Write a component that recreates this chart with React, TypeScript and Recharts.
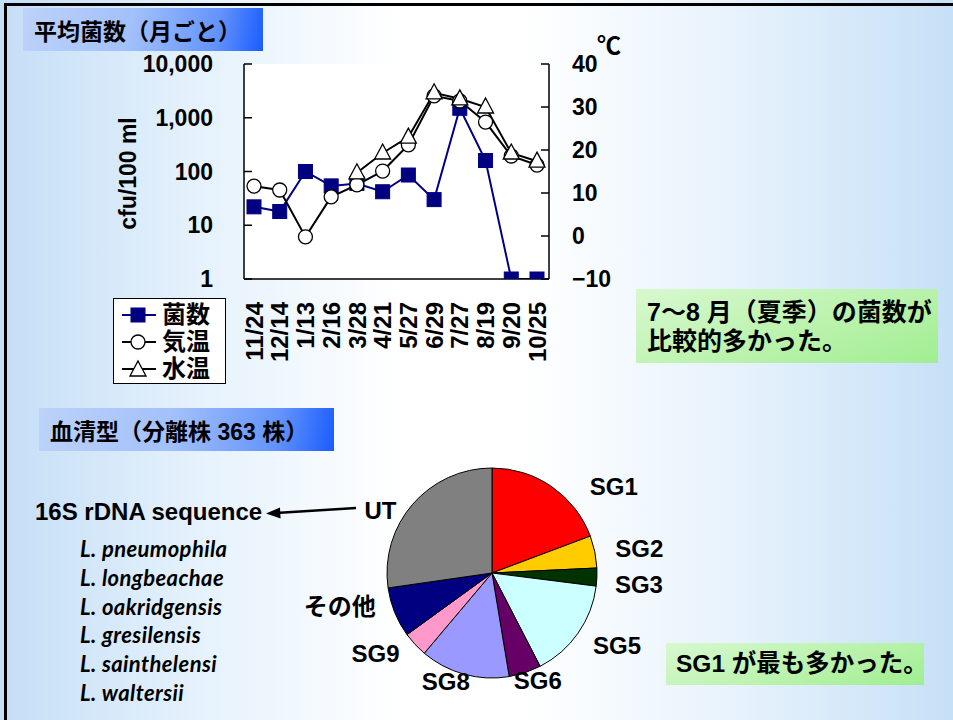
import React from "react";
import { LineChart, Line, XAxis, YAxis, CartesianGrid, Legend, PieChart, Pie, Cell } from "recharts";

// monthly means (bacteria in cfu/100 ml, temperatures in °C)
const sampleDates = ["11/24", "12/14", "1/13", "2/16", "3/28", "4/21", "5/27", "6/29", "7/27", "8/19", "9/20", "10/25"];
const bacteriaCounts = [22, 18, 100, 54, 60, 42, 86, 30, 1500, 160, 1, 1];
const airTemps = [11.6, 10.7, -0.2, 9.1, 11.9, 15.1, 21.2, 32.6, 31.4, 26.5, 18.6, 16.5];
const waterTemps = [null, null, null, null, 14.7, 19.3, 23.0, 33.3, 31.9, 30.0, 19.3, 17.4];
const cfuTicks = [1, 10, 100, 1000, 10000];
const tempTicks = [-10, 0, 10, 20, 30, 40];
const seriesOrder = ["bacteria", "air", "water"];

// serogroups of the 363 isolates
const serogroups = ["SG1", "SG2", "SG3", "SG5", "SG6", "SG8", "SG9", "その他", "UT"];
const strainCounts = [70, 18, 10, 56, 18, 50, 14, 28, 99];
const speciesList = ["L. pneumophila", "L. longbeachae", "L. oakridgensis", "L. gresilensis", "L. sainthelensi", "L. waltersii"];

const sliceColors = ["#ff0000", "#ffcc00", "#003300", "#ccffff", "#660066", "#9999ff", "#ff99cc", "#000080", "#808080"];
// hand-placed data labels, like in the original slide
const labelNudge: Record<string, [number, number]> = {
  SG1: [46, 23], SG2: [17, 2], SG3: [14, 6], SG5: [16, -4], SG6: [4, -19],
  SG8: [-11, -20], SG9: [-19, -10], "その他": [-29, -16], UT: [-11, 25],
};

const SANS = "'Liberation Sans', 'Noto Sans CJK JP', sans-serif";
const CJK = "'Noto Sans CJK JP', 'Liberation Sans', sans-serif";

const monthlyRows = sampleDates.map((d, i) => ({ date: d, bacteria: bacteriaCounts[i], air: airTemps[i], water: waterTemps[i] }));
const pieRows = serogroups.map((g, i) => ({ name: g, count: strainCounts[i] }));

const tickStyle = { fill: "#000", fontSize: 23, fontWeight: 700, fontFamily: SANS };
const frameLine = { stroke: "#000", strokeWidth: 1.5 };

function SquareDot({ cx, cy }: any) {
  if (cx == null || cy == null) return null;
  return <rect x={cx - 7} y={cy - 7} width={14} height={14} fill="#000080" stroke="#000080" />;
}
function CircleDot({ cx, cy }: any) {
  if (cx == null || cy == null) return null;
  return <circle cx={cx} cy={cy} r={7} fill="#fff" stroke="#000" strokeWidth={1.3} />;
}
function TriangleDot({ cx, cy }: any) {
  if (cx == null || cy == null) return null;
  return <path d={`M${cx},${cy - 9} L${cx + 8},${cy + 6} L${cx - 8},${cy + 6} Z`} fill="#fff" stroke="#000" strokeWidth={1.3} />;
}

function DateTick({ x, y, payload }: any) {
  return (
    <text x={x} y={y} transform={`rotate(-90, ${x}, ${y})`} textAnchor="end" dy="0.36em"
      fontSize={24} fontWeight={700} fontFamily={SANS} fill="#000">
      {payload.value}
    </text>
  );
}

function LegendBox({ payload }: any) {
  const markers: Record<string, any> = {
    bacteria: <SquareDot cx={18} cy={12} />,
    air: <CircleDot cx={18} cy={12} />,
    water: <TriangleDot cx={18} cy={13} />,
  };
  const items = [...(payload || [])].sort(
    (a: any, b: any) => seriesOrder.indexOf(a.dataKey) - seriesOrder.indexOf(b.dataKey)
  );
  return (
    <div style={{ width: 113, height: 86, boxSizing: "border-box", border: "1.5px solid #000", background: "#fff", paddingTop: 2 }}>
      {items.map((entry: any) => (
        <div key={entry.dataKey} style={{ display: "flex", alignItems: "center", height: 27 }}>
          <svg width={44} height={24} style={{ marginLeft: 6, flex: "none" }}>
            <line x1={2} y1={12} x2={36} y2={12} stroke={entry.color} strokeWidth={2} />
            {markers[entry.dataKey]}
          </svg>
          <span style={{ fontFamily: SANS, fontWeight: 700, fontSize: 24, lineHeight: "26px", marginLeft: -2, whiteSpace: "nowrap" }}>{entry.value}</span>
        </div>
      ))}
    </div>
  );
}

function PieLabel({ cx, cy, midAngle, outerRadius, name }: any) {
  const rad = Math.PI / 180;
  const d = outerRadius + 28;
  const [nx, ny] = labelNudge[name] || [0, 0];
  const x = cx + d * Math.cos(-midAngle * rad) + nx;
  const y = cy + d * Math.sin(-midAngle * rad) + ny;
  return (
    <text x={x} y={y} textAnchor="middle" dominantBaseline="central" fontSize={24} fontWeight={700} fontFamily={SANS} fill="#000">
      {name}
    </text>
  );
}

const titleBox: React.CSSProperties = {
  position: "absolute",
  background: "linear-gradient(100deg, #bcd2f9 0%, #a2c0fa 45%, #6494fb 80%, #1a5cff 100%)",
  fontFamily: SANS,
  fontWeight: 700,
  fontSize: 23,
  color: "#000",
  boxSizing: "border-box",
  display: "flex",
  alignItems: "center",
  whiteSpace: "nowrap",
};
const noteBox: React.CSSProperties = {
  position: "absolute",
  background: "linear-gradient(160deg, #d8f8d0 0%, #b8f2aa 60%, #a0ee90 100%)",
  fontFamily: SANS,
  fontWeight: 700,
  fontSize: 25,
  color: "#000",
  boxSizing: "border-box",
  whiteSpace: "nowrap",
};

export default function App() {
  return (
    <div style={{
      position: "absolute", left: 0, top: 0, width: 953, height: 720, overflow: "hidden",
      background: "linear-gradient(90deg, #c4def6 0%, #e4f1fc 20%, #ffffff 42%, #ffffff 55%, #e6f2fc 78%, #c6e0f7 100%)",
    }}>
      <div style={{ position: "absolute", left: 4, top: 3, width: 1000, height: 800, borderTop: "3px solid #000", borderLeft: "3px solid #000" }} />

      <div style={{ ...titleBox, left: 23, top: 8, width: 240, height: 43, paddingLeft: 11 }}>平均菌数（月ごと）</div>
      <div style={{ ...titleBox, left: 39, top: 408, width: 295, height: 43, paddingLeft: 11 }}>血清型（分離株 363 株）</div>

      <div style={{ ...noteBox, left: 636, top: 289, width: 302, height: 74, padding: "9px 0 0 11px", lineHeight: "29px" }}>
        7～8 月（夏季）の菌数が<br />比較的多かった。
      </div>
      <div style={{ ...noteBox, left: 666, top: 643, width: 258, height: 42, padding: "0 0 0 10px", lineHeight: "42px", fontSize: 24.5 }}>
        SG1 が最も多かった。
      </div>

      <div style={{ position: "absolute", left: 0, top: 0 }}>
        <LineChart width={640} height={400} data={monthlyRows} margin={{ top: 64, right: 0, bottom: 0, left: 0 }}>
          <CartesianGrid yAxisId="cfu" fill="#ffffff" horizontal={false} vertical={false} />
          <XAxis dataKey="date" interval={0} padding={{ left: 10, right: 12 }} height={121}
            axisLine={frameLine} tickLine={false} tickSize={0} tickMargin={23} tick={<DateTick />} />
          <XAxis xAxisId="top" orientation="top" dataKey="date" height={0} padding={{ left: 10, right: 12 }}
            axisLine={frameLine} tick={false} tickLine={false} />
          <YAxis yAxisId="cfu" scale="log" domain={[1, 10000]} ticks={cfuTicks} allowDataOverflow width={244}
            tickSize={-8} tickMargin={39} axisLine={frameLine} tickLine={frameLine} tick={tickStyle}
            tickFormatter={(v: number) => v.toLocaleString("en-US")}
            label={(p: any) => {
              const vb = p.viewBox || { x: 0, y: 64, width: 244, height: 215 };
              const lx = vb.x + 128;
              const ly = vb.y + vb.height / 2 + 2;
              return (
                <text x={lx} y={ly} transform={`rotate(-90, ${lx}, ${ly})`} textAnchor="middle" dy="0.36em"
                  fontSize={23} fontWeight={700} fontFamily={SANS} fill="#000">cfu/100 ml</text>
              );
            }} />
          <YAxis yAxisId="temp" orientation="right" domain={[-10, 40]} ticks={tempTicks} width={91}
            tickSize={-8} tickMargin={31} axisLine={frameLine} tickLine={frameLine} tick={tickStyle}
            tickFormatter={(v: number) => (v < 0 ? `−${-v}` : `${v}`)}
            label={(p: any) => {
              const vb = p.viewBox || { x: 549, y: 64 };
              return (
                <text x={vb.x + 48} y={vb.y - 10} fontSize={24} fontWeight={700} fontFamily={CJK} fill="#000">℃</text>
              );
            }} />
          <Legend layout="vertical" align="center" verticalAlign="middle" content={<LegendBox />}
            wrapperStyle={{ left: 113, top: 298, width: 113, height: 86 }} />
          <Line yAxisId="cfu" dataKey="bacteria" name="菌数" stroke="#000080" strokeWidth={2}
            dot={<SquareDot />} activeDot={false} isAnimationActive={false} />
          <Line yAxisId="temp" dataKey="air" name="気温" stroke="#000" strokeWidth={2}
            dot={<CircleDot />} activeDot={false} isAnimationActive={false} />
          <Line yAxisId="temp" dataKey="water" name="水温" stroke="#000" strokeWidth={2}
            dot={<TriangleDot />} activeDot={false} isAnimationActive={false} />
        </LineChart>
      </div>

      <div style={{ position: "absolute", left: 35, top: 498, fontFamily: SANS, fontWeight: 700, fontSize: 24, lineHeight: "28px", whiteSpace: "nowrap" }}>
        16S rDNA sequence
      </div>
      <svg width={953} height={720} style={{ position: "absolute", left: 0, top: 0 }}>
        <line x1={356} y1={508} x2={276} y2={513} stroke="#000" strokeWidth={2.5} />
        <path d="M266,513.6 L280,507.5 L280.6,518.5 Z" fill="#000" />
      </svg>
      <div style={{ position: "absolute", left: 80, top: 535, fontFamily: "Lato, 'Open Sans', sans-serif", fontWeight: 700, fontStyle: "italic", fontSize: 22, lineHeight: "28.8px", letterSpacing: 0.4, whiteSpace: "nowrap" }}>
        {speciesList.map((s) => <div key={s}>{s}</div>)}
      </div>

      <div style={{ position: "absolute", left: 0, top: 0 }}>
        <PieChart width={953} height={720} margin={{ top: 0, right: 0, bottom: 0, left: 0 }}>
          <Pie data={pieRows} dataKey="count" nameKey="name" cx={492} cy={573} outerRadius={105}
            startAngle={90} endAngle={-270} stroke="#000" strokeWidth={1} label={PieLabel} labelLine={false}
            isAnimationActive={false}>
            {pieRows.map((r, i) => <Cell key={r.name} fill={sliceColors[i]} />)}
          </Pie>
        </PieChart>
      </div>
    </div>
  );
}
